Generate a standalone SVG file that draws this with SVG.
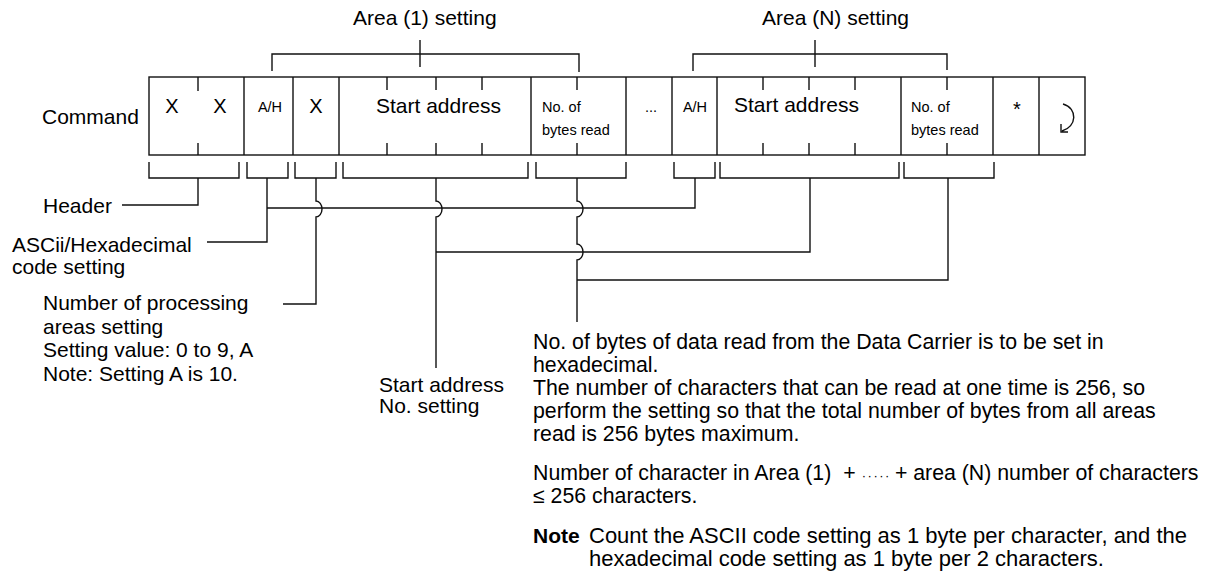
<svg xmlns="http://www.w3.org/2000/svg" width="1207" height="576" viewBox="0 0 1207 576">
<style>
.ln{fill:none;stroke:#111;stroke-width:1.4}
.t{font-family:"Liberation Sans",Arial,sans-serif;font-size:21px;fill:#000}
.w{font-size:21.3px}
.s{font-family:"Liberation Sans",Arial,sans-serif;font-size:14.5px;fill:#000}
.m{text-anchor:middle}
.b{font-weight:bold}
</style>
<rect width="1207" height="576" fill="#fff"/>
<g id="command-label"><text class="t" x="42" y="124">Command</text></g>
<g id="area1-label">
<text class="t" x="353" y="25">Area (1) setting</text>
<path class="ln" d="M272,71 V54 H579 V72 M420,40 V67"/>
</g>
<g id="areaN-label">
<text class="t" x="762" y="25">Area (N) setting</text>
<path class="ln" d="M693,71 V54 H947 V70 M815,40 V67"/>
</g>
<g id="frame">
<rect class="ln" x="149" y="77" width="936" height="78"/>
<path class="ln" d="M244,77 V155 M293,77 V155 M339,77 V155 M531,77 V155 M626,77 V155 M672,77 V155 M717,77 V155 M901,77 V155 M993,77 V155 M1039,77 V155"/>
<path class="ln" d="M198,77 V91 M198,143 V155 M387,77 V90 M387,143 V155 M436,77 V90 M436,143 V155 M482,77 V90 M482,143 V155 M577,77 V90 M577,143 V155 M763,77 V90 M763,143 V155 M809,77 V90 M809,143 V155 M855,77 V90 M855,143 V155 M947,77 V90 M947,143 V155"/>
</g>
<g id="header-cell"><text class="t m" x="172" y="113" style="font-size:20px">X</text><text class="t m" x="220" y="113" style="font-size:20px">X</text></g>
<g id="ah1-cell"><text class="s m" x="270" y="112">A/H</text></g>
<g id="areas-cell"><text class="t m" x="316" y="113" style="font-size:20px">X</text></g>
<g id="start1-cell"><text class="t" x="376" y="113">Start address</text></g>
<g id="bytes1-cell"><text class="s" x="542" y="112">No. of</text><text class="s" x="542" y="135">bytes read</text></g>
<g id="dots-cell"><text class="s m" x="651" y="112">...</text></g>
<g id="ahN-cell"><text class="s m" x="695" y="112">A/H</text></g>
<g id="startN-cell"><text class="t" x="734" y="112">Start address</text></g>
<g id="bytesN-cell"><text class="s" x="911" y="112">No. of</text><text class="s" x="911" y="135">bytes read</text></g>
<g id="terminator-cell"><text class="t m" x="1017" y="116" style="font-size:20px">*</text></g>
<g id="cr-cell"><path class="ln" d="M1063,104 C1078,108 1077,127 1062,131 M1061,124 V132 H1068"/></g>
<g id="connectors">
<path class="ln" d="M149,162 V178 H239 V162 M247,162 V178 H288 V162 M295,162 V178 H336 V162 M343,162 V178 H528 V162 M536,162 V178 H626 V162 M674,162 V178 H715 V162 M720,162 V178 H899 V162 M904,162 V178 H994 V162"/>
<path class="ln" d="M198,178 V205 H122"/>
<path class="ln" d="M267,178 V242 H207"/>
<path class="ln" d="M267,208 H695 V178"/>
<path class="ln" d="M316,178 V201 A6,8 0 0 1 316,217 V304 H283"/>
<path class="ln" d="M436,178 V201 A6,8 0 0 1 436,217 V368"/>
<path class="ln" d="M436,252 H810 V178"/>
<path class="ln" d="M577,178 V201 A6,8 0 0 1 577,217 V244 A6,8 0 0 1 577,260 V322"/>
<path class="ln" d="M577,280 H948 V178"/>
</g>
<g id="header-note"><text class="t" x="43" y="213">Header</text></g>
<g id="ascii-note"><text class="t" x="12" y="252">ASCii/Hexadecimal</text><text class="t" x="12" y="274">code setting</text></g>
<g id="areas-note">
<text class="t" x="43" y="310">Number of processing</text>
<text class="t" x="43" y="334">areas setting</text>
<text class="t" x="43" y="357">Setting value: 0 to 9, A</text>
<text class="t" x="43" y="381">Note: Setting A is 10.</text>
</g>
<g id="start-note"><text class="t" x="379" y="392">Start address</text><text class="t" x="379" y="413">No. setting</text></g>
<g id="bytes-note">
<text class="t w" x="533" y="349">No. of bytes of data read from the Data Carrier is to be set in</text>
<text class="t w" x="533" y="372">hexadecimal.</text>
<text class="t w" x="533" y="395">The number of characters that can be read at one time is 256, so</text>
<text class="t w" x="533" y="418">perform the setting so that the total number of bytes from all areas</text>
<text class="t w" x="533" y="441">read is 256 bytes maximum.</text>
<text class="t w" x="533" y="480">Number of character in Area (1)<tspan dx="12">+</tspan><tspan dx="6" style="font-size:13px;letter-spacing:1.5px">·····</tspan><tspan dx="4">+ area (N) number of characters</tspan></text>
<text class="t w" x="533" y="503">≤ 256 characters.</text>
<text class="t b" x="533" y="543">Note</text>
<text class="t" x="589" y="543" style="font-size:22px">Count the ASCII code setting as 1 byte per character, and the</text>
<text class="t" x="589" y="566" style="font-size:22px">hexadecimal code setting as 1 byte per 2 characters.</text>
</g>
</svg>
